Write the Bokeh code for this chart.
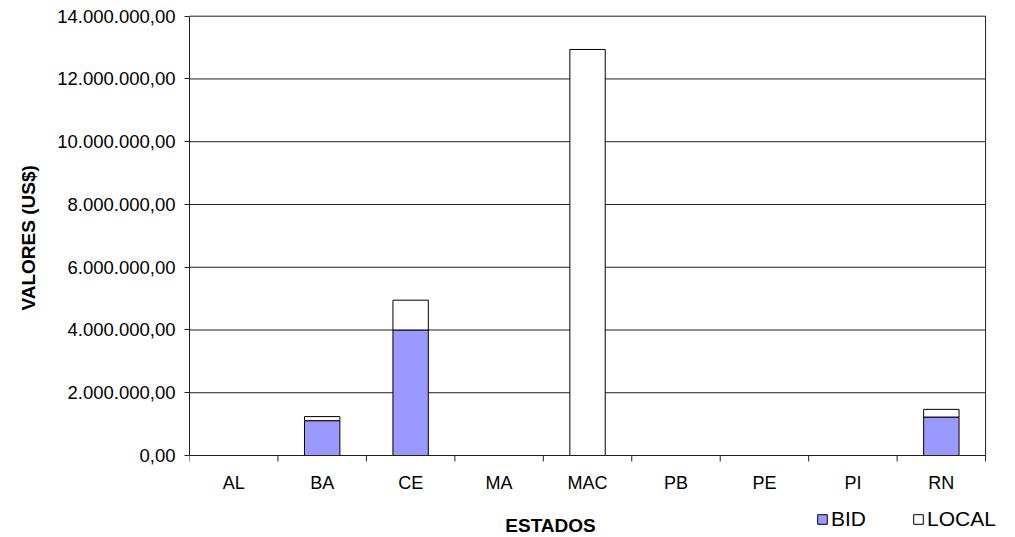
import math
from bokeh.plotting import figure
from bokeh.models import (ColumnDataSource, Range1d, LinearAxis, FixedTicker,
                          Legend, LegendItem, Label, Title)
from bokeh.embed import file_html
from bokeh.resources import INLINE

# ---- data ----
categories = ["AL", "BA", "CE", "MA", "MAC", "PB", "PE", "PI", "RN"]
bid = [0, 1110000, 4000000, 0, 0, 0, 0, 0, 1225000]
local = [0, 130000, 950000, 0, 12940000, 0, 0, 0, 245000]
series_names = ["BID", "LOCAL"]
y_ticks = [0, 2000000, 4000000, 6000000, 8000000, 10000000, 12000000, 14000000]
y_tick_labels = ["0,00", "2.000.000,00", "4.000.000,00", "6.000.000,00",
                 "8.000.000,00", "10.000.000,00", "12.000.000,00", "14.000.000,00"]
x_title = "ESTADOS"
y_title = "VALORES (US$)"

FONT = "Liberation Sans"

# ---- layout (pixels) ----
W, H = 1014, 536
FRAME_LEFT, PLOT_RIGHT, FRAME_TOP = 187, 985, 14
PX_TOP_VALUE, PX_ZERO = 15.7, 455.0          # pixel rows of the 14M and 0 values
n = len(categories)
y_max = y_ticks[-1]
yscale = (PX_ZERO - PX_TOP_VALUE) / y_max     # px per unit
y_end = y_max + (PX_TOP_VALUE - FRAME_TOP) / yscale
y_start = -(H - PX_ZERO) / yscale
xscale = (PLOT_RIGHT - FRAME_LEFT) / n
x_end = n + (W - PLOT_RIGHT) / xscale

centres = [i + 0.5 for i in range(n)]
edges = list(range(n + 1))
zeros_c = [0] * n
zeros_e = [0] * (n + 1)

source = ColumnDataSource(dict(x=centres, cat=categories, bid=bid, local=local,
                               base=zeros_c))

p = figure(width=W, height=H, x_range=Range1d(0, x_end), y_range=Range1d(y_start, y_end),
           x_axis_type=None, y_axis_type=None, output_backend="svg",
           toolbar_location=None, min_border_left=FRAME_LEFT,
           min_border_right=0, min_border_top=FRAME_TOP, min_border_bottom=0)
p.background_fill_color = "white"
p.border_fill_color = "white"
p.outline_line_color = None

LINE = "#202020"

# horizontal grid lines across the plot area
p.segment(x0=[0] * len(y_ticks), y0=y_ticks, x1=[n] * len(y_ticks), y1=y_ticks,
          line_color=LINE, line_width=1)

renderers = p.vbar_stack(["bid", "local"], x="x", width=0.4, source=source,
                         fill_color=["#9999FF", "#FFFFFF"], line_color="black",
                         line_width=1)

# x axis line at zero, boundary ticks, right border of the plot area
p.segment(x0=[0], y0=[0], x1=[n], y1=[0], line_color=LINE, line_width=1)
p.ray(x=edges, y=zeros_e, length=6, length_units="screen", angle=-math.pi / 2,
      line_color=LINE, line_width=1)
p.segment(x0=[n], y0=[0], x1=[n], y1=[y_max], line_color=LINE, line_width=1)

# category labels
p.text(x="x", y="base", text="cat", source=source, y_offset=27.5,
       text_font={"value": FONT}, text_font_size="18px", text_color="black",
       text_align="center", text_baseline="alphabetic")

# y axis
yaxis = LinearAxis(ticker=FixedTicker(ticks=y_ticks, minor_ticks=[]),
                   bounds=(0, y_max))
yaxis.major_label_overrides = {t: lab for t, lab in zip(y_ticks, y_tick_labels)}
yaxis.major_tick_line_color = LINE
yaxis.major_tick_out = 5
yaxis.major_tick_in = 0
yaxis.minor_tick_line_color = None
yaxis.axis_line_color = LINE
yaxis.major_label_text_font = FONT
yaxis.major_label_text_font_size = "18.5px"
yaxis.major_label_text_color = "black"
yaxis.major_label_standoff = 9
p.add_layout(yaxis, "left")

# y axis title
p.add_layout(Title(text=y_title, align="left", offset=226, standoff=31,
                   text_font=FONT, text_font_size="19px", text_font_style="bold",
                   text_color="black"), "left")

# x axis title
p.add_layout(Label(x=548 - FRAME_LEFT, y=H - 532 + 7, x_units="screen", y_units="screen",
                   text=x_title, text_font=FONT, text_font_size="19px",
                   text_font_style="bold", text_align="center",
                   text_baseline="alphabetic", text_color="black"))

legend = Legend(items=[LegendItem(label=series_names[0], renderers=[renderers[0]]),
                       LegendItem(label=series_names[1], renderers=[renderers[1]])],
                orientation="horizontal", location=(814 - FRAME_LEFT, H - 531),
                border_line_color=None, background_fill_alpha=0,
                padding=0, margin=0, spacing=46,
                glyph_width=12, glyph_height=12, label_standoff=3,
                label_text_font=FONT, label_text_font_size="21px",
                label_text_color="black", label_text_baseline="middle")
p.add_layout(legend, "center")

open("out.html", "w").write(file_html(p, INLINE))
